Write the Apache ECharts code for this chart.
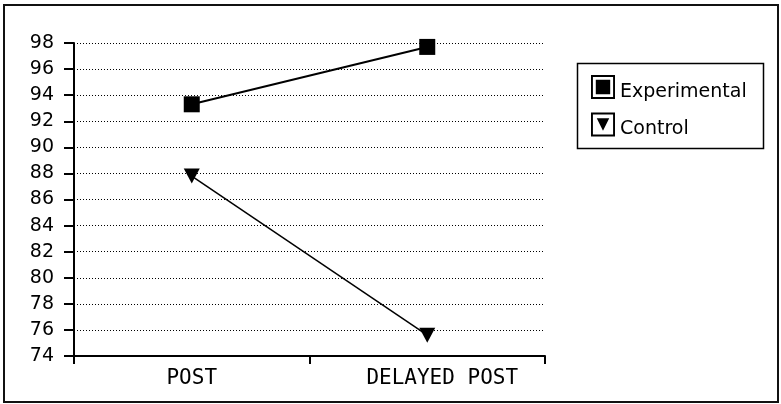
<!DOCTYPE html>
<html>
<head>
<meta charset="utf-8">
<script src="https://cdn.jsdelivr.net/npm/echarts@6/dist/echarts.min.js"></script>
<style>
  html, body { margin: 0; padding: 0; background: #fff; }
  #main { width: 781px; height: 404px; }
</style>
</head>
<body>
<div id="main"></div>
<script>
// categories and values
var categories = ['POST', 'DELAYED POST'];
var experimental = [93.3, 97.7];
var control = [87.8, 75.6];
var yMin = 74, yMax = 98, yStep = 2;

// legend keys: framed box with the marker inside (hole cut by reverse winding)
var frame = 'M0,0 L25,0 L25,25 L0,25 Z M2,2 L2,23 L23,23 L23,2 Z ';
var iconSquare = 'path://' + frame + 'M5,5 L20,5 L20,20 L5,20 Z';
var iconTri = 'path://' + frame + 'M6,6 L19,6 L12.5,19 Z';

var chart = echarts.init(document.getElementById('main'));
var option = {
  backgroundColor: '#fff',
  animation: false,
  grid: { left: 74, right: 236, top: 43, bottom: 48 },
  legend: {
    orient: 'vertical',
    left: 591, top: 75,
    padding: 0,
    itemWidth: 24, itemHeight: 24, itemGap: 11,
    formatter: function (name) { return '{t|' + name + '}'; },
    textStyle: {
      fontFamily: 'DejaVu Sans', fontSize: 19, color: '#000',
      rich: { t: { fontFamily: 'DejaVu Sans', fontSize: 19, color: '#000', padding: [10, 0, 0, 0] } }
    },
    itemStyle: { borderWidth: 0 },
    data: [
      { name: 'Experimental', icon: iconSquare },
      { name: 'Control', icon: iconTri }
    ]
  },
  graphic: [
    // outer frame of the picture
    { type: 'rect', shape: { x: 4, y: 5, width: 774, height: 397 }, style: { fill: 'none', stroke: '#111', lineWidth: 2 } },
    // legend box
    { type: 'rect', shape: { x: 577.5, y: 63.5, width: 186, height: 85 }, style: { fill: 'none', stroke: '#000', lineWidth: 1.5 } }
  ],
  xAxis: {
    type: 'category',
    data: categories,
    boundaryGap: true,
    axisLine: { lineStyle: { color: '#000', width: 2 } },
    axisTick: { show: true, length: 8, interval: 0, lineStyle: { color: '#000', width: 2 } },
    axisLabel: {
      color: '#000', fontFamily: 'DejaVu Sans Mono', fontSize: 21, margin: 12, interval: 0,
      formatter: function (v, i) { return i === 1 ? '{b|' + v + '}' : v; },
      rich: { b: { fontFamily: 'DejaVu Sans Mono', fontSize: 21, color: '#000', padding: [0, 0, 0, 30] } }
    },
    splitLine: { show: false }
  },
  yAxis: {
    type: 'value',
    min: yMin, max: yMax, interval: yStep,
    axisLine: { show: true, lineStyle: { color: '#000', width: 2 } },
    axisTick: { show: true, length: 10, lineStyle: { color: '#000', width: 2 } },
    axisLabel: { color: '#000', fontFamily: 'DejaVu Sans', fontSize: 19, margin: 20 },
    splitLine: { show: true, lineStyle: { color: '#000', width: 1, type: [1, 2] } }
  },
  series: [
    {
      name: 'Experimental',
      type: 'line',
      data: experimental,
      symbol: 'rect',
      symbolSize: 16,
      itemStyle: { color: '#000' },
      lineStyle: { color: '#000', width: 2 }
    },
    {
      name: 'Control',
      type: 'line',
      data: control,
      symbol: 'triangle',
      symbolRotate: 180,
      symbolSize: [16, 15],
      itemStyle: { color: '#000' },
      lineStyle: { color: '#000', width: 1.5 }
    }
  ]
};
chart.setOption(option);
</script>
</body>
</html>
